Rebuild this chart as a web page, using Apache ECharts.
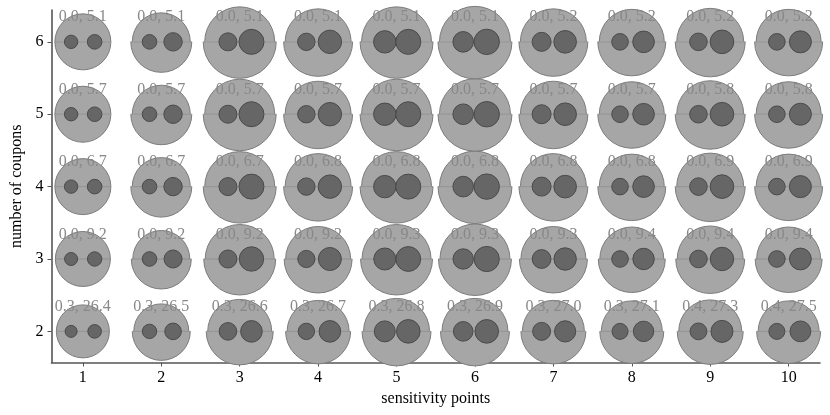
<!DOCTYPE html>
<html>
<head>
<meta charset="utf-8">
<script src="https://cdn.jsdelivr.net/npm/echarts@6/dist/echarts.min.js"></script>
<style>
  html, body { margin: 0; padding: 0; background: #fff; }
  #chart { width: 830px; height: 415px; }
</style>
</head>
<body>
<div id="chart"></div>
<script>
// sensitivity points (x) and number of coupons (y)
const sensitivity = [1, 2, 3, 4, 5, 6, 7, 8, 9, 10];
const coupons = [2, 3, 4, 5, 6];

// label values "a, b" per row (rows in coupons order)
const labelA = [
  [0.3, 0.3, 0.3, 0.3, 0.3, 0.3, 0.3, 0.3, 0.4, 0.4],
  [0.0, 0.0, 0.0, 0.0, 0.0, 0.0, 0.0, 0.0, 0.0, 0.0],
  [0.0, 0.0, 0.0, 0.0, 0.0, 0.0, 0.0, 0.0, 0.0, 0.0],
  [0.0, 0.0, 0.0, 0.0, 0.0, 0.0, 0.0, 0.0, 0.0, 0.0],
  [0.0, 0.0, 0.0, 0.0, 0.0, 0.0, 0.0, 0.0, 0.0, 0.0]
];
const labelB = [
  [26.4, 26.5, 26.6, 26.7, 26.8, 26.9, 27.0, 27.1, 27.3, 27.5],
  [9.2, 9.2, 9.2, 9.2, 9.3, 9.3, 9.3, 9.4, 9.4, 9.4],
  [6.7, 6.7, 6.7, 6.8, 6.8, 6.8, 6.8, 6.8, 6.9, 6.9],
  [5.7, 5.7, 5.7, 5.7, 5.7, 5.7, 5.7, 5.7, 5.8, 5.8],
  [5.1, 5.1, 5.1, 5.1, 5.1, 5.1, 5.2, 5.2, 5.2, 5.2]
];

// glyph sizes: upper / lower half of big circle, left / right small circle
const upperSize = [
  [26.5, 27.5, 32, 31, 33, 33, 31, 30.5, 31.5, 30.5],
  [27.5, 28.5, 34.5, 32.5, 34.5, 35, 32.5, 32, 33, 32],
  [28, 29, 35, 33, 35, 35.5, 33, 32.5, 33.5, 32.5],
  [28, 29, 35, 33, 35, 35.5, 33, 32.5, 33.5, 32.5],
  [28, 29, 35, 33, 35, 35.5, 33, 32.5, 33.5, 32.5]
];
const lowerSize = [
  [26.5, 29, 33.5, 32.5, 34.5, 34.5, 32.5, 32, 33, 32],
  [27.5, 30, 36, 34, 36, 36.5, 34, 33.5, 34.5, 33.5],
  [28, 30.5, 36.5, 34.5, 36.5, 37, 34.5, 34, 35, 34],
  [28, 30.5, 36.5, 34.5, 36.5, 37, 34.5, 34, 35, 34],
  [28, 30.5, 36.5, 34.5, 36.5, 37, 34.5, 34, 35, 34]
];
const leftSize = [
  [6, 7.2, 8.8, 8.2, 10.5, 9.8, 9, 8, 8.4, 8],
  [6.5, 7.3, 9, 8.6, 11, 10.2, 9.4, 8.3, 8.8, 8.3],
  [6.7, 7.3, 9, 8.7, 11.2, 10.3, 9.5, 8.3, 8.8, 8.3],
  [6.7, 7.3, 9, 8.7, 11.2, 10.3, 9.5, 8.3, 8.8, 8.3],
  [6.7, 7.3, 9, 8.7, 11.2, 10.3, 9.5, 8.3, 8.8, 8.3]
];
const rightSize = [
  [6.8, 8.3, 10.8, 10.8, 11.8, 11.8, 10.6, 10.2, 11, 10.4],
  [7.2, 9, 12.2, 11.5, 12.4, 12.6, 11.2, 10.7, 11.7, 10.9],
  [7.3, 9.2, 12.5, 11.7, 12.5, 12.7, 11.3, 10.8, 11.8, 11],
  [7.3, 9.2, 12.5, 11.7, 12.5, 12.7, 11.3, 10.8, 11.8, 11],
  [7.3, 9.2, 12.5, 11.7, 12.5, 12.7, 11.3, 10.8, 11.8, 11]
];

const serif = '"Liberation Serif", "DejaVu Serif", serif';

let data = [];
coupons.forEach(function (y, i) {
  sensitivity.forEach(function (x, j) {
    data.push([x, y, upperSize[i][j], lowerSize[i][j], leftSize[i][j], rightSize[i][j],
      labelA[i][j].toFixed(1) + ', ' + labelB[i][j].toFixed(1)]);
  });
});

function renderItem(params, api) {
  const x = api.value(0), y = api.value(1);
  const c = api.coord([x, y]);
  const left = api.coord([x - 0.15, y]);
  const right = api.coord([x + 0.15, y]);
  const lab = api.coord([x, y + 0.34]);
  const rt = api.value(2), rb = api.value(3);
  const rl = api.value(4), rr = api.value(5);
  const big = '#a6a6a6', edge = '#7c7c7c';
  return {
    type: 'group',
    children: [
      { type: 'sector', shape: { cx: c[0], cy: c[1], r: rt, r0: 0, startAngle: Math.PI, endAngle: 2 * Math.PI, clockwise: true },
        style: { fill: big } },
      { type: 'sector', shape: { cx: c[0], cy: c[1], r: rb, r0: 0, startAngle: 0, endAngle: Math.PI, clockwise: true },
        style: { fill: big } },
      { type: 'arc', shape: { cx: c[0], cy: c[1], r: rt, startAngle: Math.PI, endAngle: 2 * Math.PI, clockwise: true },
        style: { fill: null, stroke: edge, lineWidth: 1 } },
      { type: 'arc', shape: { cx: c[0], cy: c[1], r: rb, startAngle: 0, endAngle: Math.PI, clockwise: true },
        style: { fill: null, stroke: edge, lineWidth: 1 } },
      { type: 'line', shape: { x1: c[0] - rb, y1: c[1], x2: c[0] + rb, y2: c[1] },
        style: { stroke: '#919191', lineWidth: 1 } },
      { type: 'circle', shape: { cx: left[0], cy: left[1], r: rl },
        style: { fill: '#666666', stroke: '#4a4a4a', lineWidth: 1 } },
      { type: 'circle', shape: { cx: right[0], cy: right[1], r: rr },
        style: { fill: '#666666', stroke: '#4a4a4a', lineWidth: 1 } },
      { type: 'text', style: { text: api.value(6), x: lab[0], y: lab[1], align: 'center', verticalAlign: 'middle',
        fill: '#888888', fontSize: 16, fontFamily: serif } }
    ]
  };
}

let myChart = echarts.init(document.getElementById('chart'), null, { renderer: 'canvas' });
myChart.setOption({
  animation: false,
  backgroundColor: '#fff',
  grid: { left: 51.5, right: 10, top: 10, bottom: 52.5 },
  xAxis: {
    type: 'value',
    min: 0.6,
    max: 10.4,
    name: 'sensitivity points',
    nameLocation: 'middle',
    nameGap: 23,
    nameTextStyle: { color: '#000', fontSize: 16, fontFamily: serif },
    axisLine: { lineStyle: { color: '#555', width: 1.6 } },
    axisTick: { length: 4, lineStyle: { color: '#555' }, customValues: sensitivity },
    axisLabel: { color: '#000', fontSize: 16, fontFamily: serif, margin: 7, customValues: sensitivity },
    splitLine: { show: false }
  },
  yAxis: {
    type: 'value',
    min: 1.57,
    max: 6.44,
    name: 'number of coupons',
    nameLocation: 'middle',
    nameGap: 27,
    nameTextStyle: { color: '#000', fontSize: 16, fontFamily: serif },
    axisLine: { show: true, lineStyle: { color: '#555', width: 1.6 } },
    axisTick: { show: true, length: 4, lineStyle: { color: '#555' }, customValues: coupons },
    axisLabel: { color: '#000', fontSize: 16, fontFamily: serif, margin: 8, customValues: coupons },
    splitLine: { show: false }
  },
  series: [{
    type: 'custom',
    renderItem: renderItem,
    data: data,
    clip: false
  }]
});
</script>
</body>
</html>
